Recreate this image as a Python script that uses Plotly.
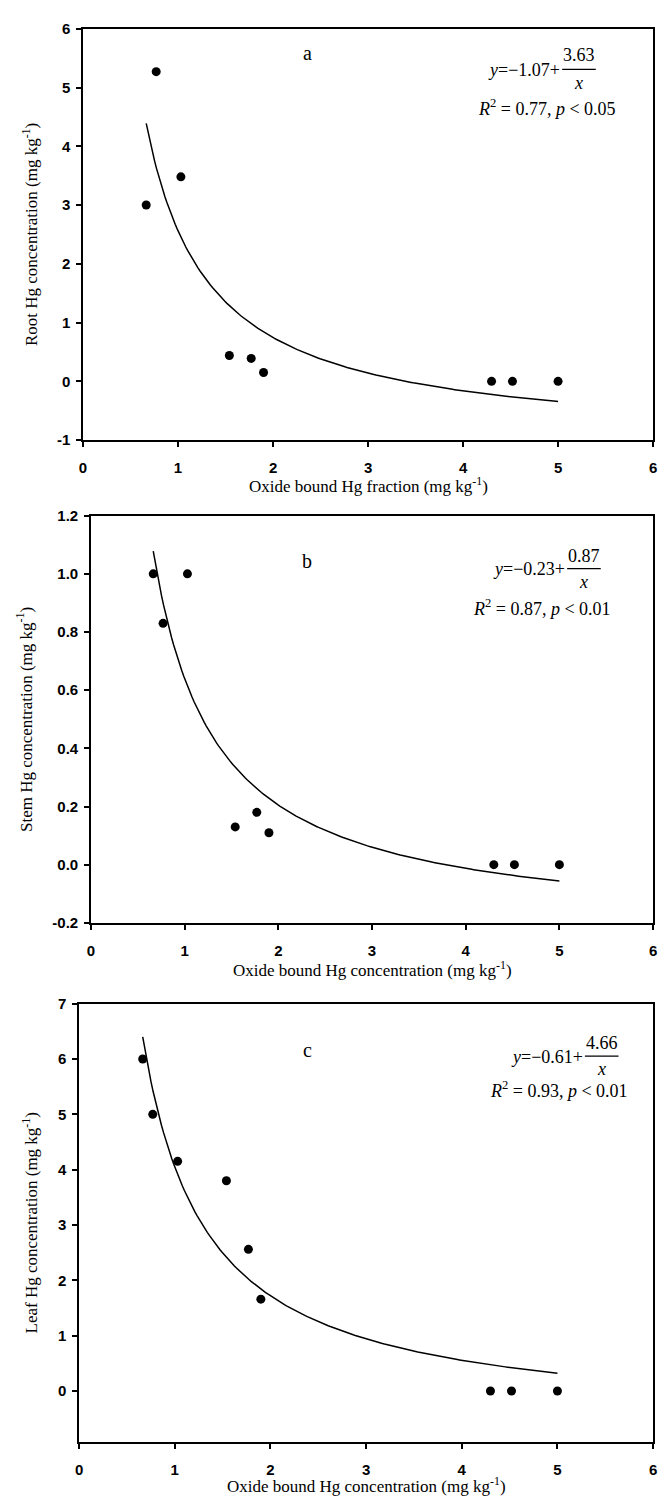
import numpy as np
import plotly.graph_objects as go

W, H = 664, 1504

# ---- data ----
oxide_hg = [0.665, 0.77, 1.03, 1.54, 1.77, 1.90, 4.30, 4.52, 5.00]
root_hg = [3.00, 5.27, 3.48, 0.44, 0.39, 0.15, 0.0, 0.0, 0.0]
stem_hg = [1.00, 0.83, 1.00, 0.13, 0.18, 0.11, 0.0, 0.0, 0.0]
leaf_hg = [6.00, 5.00, 4.15, 3.80, 2.56, 1.66, 0.0, 0.0, 0.0]

# fitted model y = a + b / x, coefficients as printed on each panel
fit_a = [-1.07, -0.23, -0.61]
fit_b = [3.63, 0.87, 4.66]
fit_r2 = ["0.77", "0.87", "0.93"]
fit_p = ["0.05", "0.01", "0.01"]
fit_x_range = [0.665, 5.0]

panel_letters = ["a", "b", "c"]
y_titles = ["Root Hg concentration (mg kg<sup>-1</sup>)",
            "Stem Hg concentration (mg kg<sup>-1</sup>)",
            "Leaf Hg concentration (mg kg<sup>-1</sup>)"]
x_titles = ["Oxide bound Hg fraction (mg kg<sup>-1</sup>)",
            "Oxide bound Hg concentration (mg kg<sup>-1</sup>)",
            "Oxide bound Hg concentration (mg kg<sup>-1</sup>)"]
x_ticks = [0, 1, 2, 3, 4, 5, 6]
y_ticks = [[-1, 0, 1, 2, 3, 4, 5, 6],
           [-0.2, 0.0, 0.2, 0.4, 0.6, 0.8, 1.0, 1.2],
           [0, 1, 2, 3, 4, 5, 6, 7]]
y_tick_text = [[str(v) for v in y_ticks[0]],
               ["%.1f" % v for v in y_ticks[1]],
               [str(v) for v in y_ticks[2]]]
y_ranges = [[-1, 6], [-0.2, 1.2], [-0.92, 7]]
x_range = [0, 6]

# ---- layout geometry (pixels) ----
plot_boxes = [  # left, right, top, bottom
    (80, 657, 20, 436),
    (88, 657, 512.5, 924.3),
    (76, 657, 1006, 1449.3),
]
ytitle_x = [27, 21, 26]
xtitle_y = [481, 971, 1493]
letter_y = [45, 558, 1053]
eq_layout = [  # (row y, fraction centre x, numerator y, bar y, denom y, R2 centre x, R2 y)
    (62, 582, 47, 61, 75, 550, 100),
    (566, 587, 553, 566, 580, 545, 605),
    (1060, 605, 1046, 1059, 1072, 562, 1093),
]

def px(x):
    return x / W

def py(y):
    return 1 - y / H

SERIF = "Liberation Serif, Times New Roman, serif"
SANS = "Liberation Sans, Arial, sans-serif"

fig = go.Figure()
annotations = []
shapes = []
series = [root_hg, stem_hg, leaf_hg]

for i in range(3):
    sfx = "" if i == 0 else str(i + 1)
    xa, ya = "x" + sfx, "y" + sfx
    fig.add_trace(go.Scatter(
        x=oxide_hg, y=series[i], mode="markers", xaxis=xa, yaxis=ya,
        marker=dict(color="black", size=9), showlegend=False, hoverinfo="skip"))
    xs = np.linspace(fit_x_range[0], fit_x_range[1], 200)
    ys = fit_a[i] + fit_b[i] / xs
    fig.add_trace(go.Scatter(
        x=xs, y=ys, mode="lines", xaxis=xa, yaxis=ya,
        line=dict(color="black", width=1.5), showlegend=False, hoverinfo="skip"))

    l, r, t, b = plot_boxes[i]
    axis_common = dict(showline=True, linecolor="black", linewidth=1.5, mirror=True,
                       ticks="outside", ticklen=5, tickwidth=1.5, tickcolor="black",
                       showgrid=False, zeroline=False, ticklabeloverflow="allow",
                       tickfont=dict(family=SANS, size=15, color="black", weight="bold"))
    fig.update_layout(**{
        "xaxis" + sfx: dict(domain=[px(l), px(r)], range=x_range, anchor=ya,
                            tickvals=x_ticks, ticktext=[str(v) for v in x_ticks],
                            ticklabelstandoff=8, **axis_common),
        "yaxis" + sfx: dict(domain=[py(b), py(t)], range=y_ranges[i], anchor=xa,
                            tickvals=y_ticks[i], ticktext=y_tick_text[i],
                            ticklabelstandoff=3, **axis_common),
    })

    # axis titles
    annotations.append(dict(x=px(ytitle_x[i]), y=py((t + b) / 2), xref="paper", yref="paper",
                            text=y_titles[i], textangle=-90, showarrow=False,
                            font=dict(family=SERIF, size=17, color="black"),
                            xanchor="center", yanchor="middle"))
    annotations.append(dict(x=px((l + r) / 2), y=py(xtitle_y[i]), xref="paper", yref="paper",
                            text=x_titles[i], showarrow=False,
                            font=dict(family=SERIF, size=17, color="black"),
                            xanchor="center", yanchor="middle"))
    # panel letter
    annotations.append(dict(x=px(307), y=py(letter_y[i]), xref="paper", yref="paper",
                            text=panel_letters[i], showarrow=False,
                            font=dict(family=SERIF, size=20, color="black"),
                            xanchor="center", yanchor="middle"))
    # equation
    ey, fx, ny, by, dy, rx, ry = eq_layout[i]
    efont = dict(family=SERIF, size=18, color="black")
    annotations.append(dict(x=px(fx - 17), y=py(ey), xref="paper", yref="paper",
                            text="<i>y</i>=\u2212%.2f+" % abs(fit_a[i]), showarrow=False,
                            font=efont, xanchor="right", yanchor="middle"))
    annotations.append(dict(x=px(fx), y=py(ny), xref="paper", yref="paper",
                            text="%.2f" % fit_b[i], showarrow=False,
                            font=efont, xanchor="center", yanchor="middle"))
    annotations.append(dict(x=px(fx), y=py(dy), xref="paper", yref="paper",
                            text="<i>x</i>", showarrow=False,
                            font=efont, xanchor="center", yanchor="middle"))
    shapes.append(dict(type="line", xref="paper", yref="paper",
                       x0=px(fx - 17), x1=px(fx + 17), y0=py(by), y1=py(by),
                       line=dict(color="black", width=1.2)))
    annotations.append(dict(x=px(rx), y=py(ry), xref="paper", yref="paper",
                            text="<i>R</i><sup>2</sup> = %s, <i>p</i> < %s" % (fit_r2[i], fit_p[i]),
                            showarrow=False, font=efont, xanchor="center", yanchor="middle"))

fig.update_layout(width=W, height=H, margin=dict(l=0, r=0, t=0, b=0),
                  paper_bgcolor="white", plot_bgcolor="white",
                  annotations=annotations, shapes=shapes, showlegend=False)

fig.write_html("out.html", config={"displayModeBar": False},
               post_script="document.body.style.margin='0px';document.body.style.overflow='hidden';")
